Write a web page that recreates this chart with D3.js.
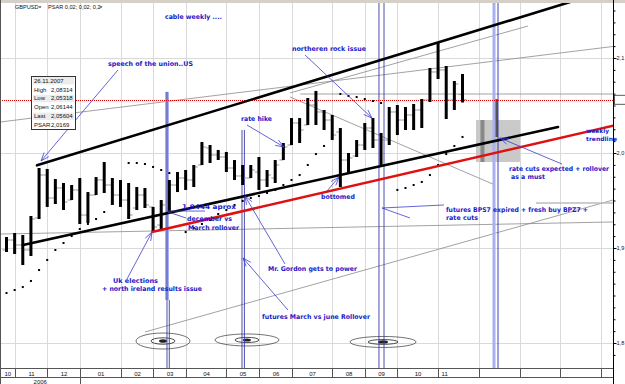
<!DOCTYPE html>
<html>
<head>
<meta charset="utf-8">
<script src="https://cdn.jsdelivr.net/npm/d3@7"></script>
<style>
  body { margin: 0; background: #fff; }
  svg { display: block; font-family: "DejaVu Sans", sans-serif; }
</style>
</head>
<body>
<svg id="chart" width="625" height="384"></svg>
<script>
// GBPUSD weekly, 30.10.2006 .. 26.11.2007
const WEEK = 7 * 864e5;
const firstWeek = new Date(2006, 9, 30);

const highs = [1.9116,1.9158,1.9137,1.9337,1.9842,1.9832,1.9726,1.9684,1.9663,1.9737,1.9589,1.9747,1.9905,1.9737,1.9716,1.9684,1.9642,1.9632,1.9432,1.9505,1.9716,1.9800,1.9821,1.9874,2.0116,2.0084,2.0032,2.0011,1.9926,1.9874,1.9874,1.9958,1.9821,1.9926,2.0105,2.0368,2.0368,2.0579,2.0653,2.0453,2.0400,2.0263,2.0000,2.0137,2.0316,2.0368,2.0211,2.0484,2.0505,2.0484,2.0516,2.0568,2.0895,2.1158,2.0916,2.0758,2.08314];
const lows  = [1.8958,1.8937,1.8821,1.8916,1.9305,1.9432,1.9463,1.9400,1.9505,1.9253,1.9263,1.9558,1.9579,1.9453,1.9432,1.9305,1.9400,1.9421,1.9168,1.9189,1.9368,1.9589,1.9611,1.9642,1.9874,1.9895,1.9926,1.9800,1.9716,1.9663,1.9737,1.9611,1.9642,1.9684,1.9926,2.0084,2.0105,2.0295,2.0295,2.0242,2.0137,1.9642,1.9789,1.9958,2.0032,2.0053,1.9874,2.0084,2.0189,2.0242,2.0242,2.0263,2.0537,2.0779,2.0358,2.0453,2.05318];
const opens = [1.8979,1.9084,1.9032,1.8979,1.9316,1.9768,1.9526,1.9632,1.9505,1.9611,1.9347,1.9558,1.9716,1.9663,1.9558,1.9505,1.9421,1.9558,1.9432,1.9242,1.9453,1.9663,1.9737,1.9716,1.9874,2.0053,1.9979,1.9958,1.9842,1.9758,1.9737,1.9800,1.9716,1.9737,1.9926,2.0084,2.0316,2.0295,2.0505,2.0432,2.0347,2.0221,1.9926,1.9968,2.0084,2.0263,2.0137,2.0137,2.0432,2.0347,2.0400,2.0453,2.0558,2.0853,2.0874,2.0558,2.06144];
const closes = [1.9084,1.9032,1.8979,1.9305,1.9768,1.9526,1.9632,1.9484,1.9611,1.9347,1.9558,1.9716,1.9663,1.9558,1.9505,1.9347,1.9558,1.9453,1.9221,1.9453,1.9663,1.9737,1.9716,1.9853,2.0063,1.9979,1.9958,1.9842,1.9758,1.9737,1.9821,1.9716,1.9768,1.9874,2.0063,2.0316,2.0242,2.0505,2.0432,2.0347,2.0189,1.9926,1.9947,2.0084,2.0263,2.0137,2.0137,2.0432,2.0347,2.0400,2.0453,2.0558,2.0853,2.0874,2.0558,2.0726,2.05604];
const psar = [1.8526,1.8558,1.8589,1.8653,1.8768,1.8874,1.8979,1.9053,1.9126,1.9200,1.9253,1.9305,1.9379,null,null,1.9895,1.9895,1.9884,1.9853,1.9821,1.9789,null,1.9168,1.9211,1.9253,1.9295,1.9358,1.9400,1.9453,1.9495,1.9526,1.9547,1.9579,1.9611,1.9663,1.9716,1.9768,1.9874,1.9989,2.0074,null,2.0621,2.0600,2.0589,2.0568,2.0547,2.0526,null,1.9611,1.9632,1.9663,1.9695,1.9768,1.9874,1.9989,2.0074,2.0169];

const monthTicks = ['2006-11-06','2006-12-04','2007-01-01','2007-02-05','2007-03-05','2007-04-02','2007-05-07','2007-06-04','2007-07-02','2007-08-06','2007-09-03','2007-10-01','2007-11-05','2007-12-10','2008-01-14','2008-02-18','2008-03-24'];
const monthLabels = ['10','11','12','01','02','03','04','05','06','07','08','09','10','11'];
const yearLabels = ['2006'];
const priceTicks = [1.8, 1.9, 2.0, 2.1];
const priceLabels = ['1,8', '1,9', '2,0', '2,1'];
const lastPrice = 2.05604;
const tooltipRows = [['26.11.2007', ''], ['High', '2,08314'], ['Low', '2,05318'], ['Open', '2,06144'], ['Last', '2,05604'], ['PSAR', '2,0169']];

// drawn objects, anchored in [week, price]
const channelLines = [
  [3.75, 1.987, 70, 2.161],
  [2.03, 1.9032, 67.73, 2.0274]
];
const redLine = [17.87, 1.9168, 75.96, 2.0316];
const thinLines = [
  [-0.8, 2.0326, 75.96, 2.1137],
  [-0.8, 1.9147, 74.48, 1.9274],
  [17.01, 1.8116, 74.48, 1.9505],
  [36.07, 2.0621, 74.48, 2.0621],
  [34.82, 2.0632, 64.05, 2.1337],
  [34.82, 2.0590, 60.0, 1.9663]
];
const shadedLine = [65.03, 1.9474, 74.48, 1.9474];
const eventWeeks = [19.71, 28.92, 45.74, 46.36, 59.87, 60.36];
const targets = [[19.22, 1.8021], [29.53, 1.8032], [46.24, 1.8011]];
const notes = [
  ['cable weekly ....', 19.46, 2.1432, 57],
  ['speech of the union..US', 12.46, 2.0937, 85],
  ['northeren rock issue', 35.06, 2.1095, 74],
  ['rate hike', 28.80, 2.0358, 31],
  ['1,9444 aprox', 21.55, 1.9432, 54],
  ['december vs', 22.17, 1.9310, 45],
  ['March rollover', 22.29, 1.9216, 51],
  ['bottomed', 38.62, 1.9537, 34],
  ['Uk elections', 13.08, 1.8658, 45],
  ['+ north ireland results issue', 11.73, 1.8574, 100],
  ['Mr. Gordon gets to power', 32.11, 1.8779, 89],
  ['futures March vs june Rollover', 31.38, 1.8274, 108],
  ['rate cuts expected + rollover', 61.71, 1.9837, 100],
  ['as a must', 61.96, 1.9753, 34],
  ['futures BPS7 expired + fresh buy BPZ7 +', 53.97, 1.9405, 142],
  ['rate cuts', 53.97, 1.9321, 32],
  ['weekly', 71.17, 2.0234, 23],
  ['trendline', 71.17, 2.0156, 31]
];
// [fromWeek, fromPrice, toWeek, toPrice, arrow]
const pointers = [
  [13.69, 2.0874, 4.24, 1.9916, true],
  [36.66, 2.1032, 44.88, 2.0368, true],
  [29.53, 2.0295, 34.08, 2.0063, true],
  [19.83, 1.9389, 24.38, 1.9389, false],
  [22.04, 1.9316, 19.83, 1.9379, false],
  [14.80, 1.8674, 17.87, 1.9168, true],
  [34.20, 1.8832, 29.29, 1.9547, true],
  [34.57, 1.8347, 29.04, 1.8895, true],
  [39.36, 1.9600, 40.83, 1.9747, true],
  [68.22, 1.9884, 60.60, 2.0158, true],
  [53.73, 1.9453, 46.11, 1.9421, false],
  [49.55, 1.9316, 46.11, 1.9421, false]
];
const zone = [57.66, 2.0347, 63.06, 1.9905];
const zoneBars = [[58.45, 2.0347, 1.9905], [60.1, 2.0568, 2.0168]];

// styles
const targetRings = [[[27, 8], [12, 3.2], [4, 1.8]], [[32, 6], [12, 2.6], [4, 1.5]], [[33, 5.5], [15, 2.4], [5, 1.6]]];
const noteFont = '"DejaVu Sans Condensed", "DejaVu Sans", sans-serif';
const uiFont = '"Liberation Sans", Arial, sans-serif';

const svg = d3.select('#chart');
const plotRight = 613, axisTop = 368, axisMid = 377;

const x = d3.scaleTime()
  .domain([firstWeek, new Date(+firstWeek + 56 * WEEK)])
  .range([6.5, 462.5]);
const xw = w => x(new Date(+firstWeek + w * WEEK));
const y = d3.scaleLinear().domain([1.8, 2.1]).range([343, 58]);

const bars = highs.map((h, i) => ({
  date: new Date(+firstWeek + i * WEEK),
  high: h, low: lows[i], open: opens[i], close: closes[i], sar: psar[i]
}));

svg.append('rect').attr('width', 625).attr('height', 384).attr('fill', '#fff');

svg.append('defs').append('clipPath').attr('id', 'plot')
  .append('rect').attr('x', 0).attr('y', 3).attr('width', plotRight).attr('height', axisTop - 3);

const g = svg.append('g').attr('clip-path', 'url(#plot)');

// grid
const tickDates = monthTicks.map(d => d3.timeParse('%Y-%m-%d')(d));
g.append('g').selectAll('line').data(tickDates).join('line')
  .attr('x1', d => Math.round(x(d)) + 0.5).attr('x2', d => Math.round(x(d)) + 0.5)
  .attr('y1', 0).attr('y2', axisTop)
  .attr('stroke', '#d9d9d9').attr('stroke-width', 1);
g.append('g').selectAll('line').data(priceTicks).join('line')
  .attr('x1', 0).attr('x2', plotRight)
  .attr('y1', d => Math.round(y(d)) + 0.5).attr('y2', d => Math.round(y(d)) + 0.5)
  .attr('stroke', '#d9d9d9');

// thin gray study lines
g.append('g').selectAll('line').data(thinLines).join('line')
  .attr('x1', d => xw(d[0])).attr('y1', d => y(d[1]))
  .attr('x2', d => xw(d[2])).attr('y2', d => y(d[3]))
  .attr('stroke', '#8a8a8a').attr('stroke-width', 0.8);
g.append('line')
  .attr('x1', xw(shadedLine[0])).attr('y1', y(shadedLine[1]))
  .attr('x2', xw(shadedLine[2])).attr('y2', y(shadedLine[3]))
  .attr('stroke', '#bdbdbd').attr('stroke-width', 1.6);

// target ellipses
const tg = g.append('g').selectAll('g').data(targets).join('g')
  .attr('transform', d => `translate(${xw(d[0])},${y(d[1])})`);
tg.each(function (d, i) {
  const r = targetRings[i];
  const s = d3.select(this);
  s.append('ellipse').attr('rx', r[0][0]).attr('ry', r[0][1]).attr('fill', 'none').attr('stroke', '#333').attr('stroke-width', 0.7);
  s.append('ellipse').attr('rx', r[1][0]).attr('ry', r[1][1]).attr('fill', 'none').attr('stroke', '#222').attr('stroke-width', 0.8);
  s.append('ellipse').attr('rx', r[2][0]).attr('ry', r[2][1]).attr('fill', '#222');
});

// gray zone
g.append('rect')
  .attr('x', xw(zone[0])).attr('y', y(zone[1]))
  .attr('width', xw(zone[2]) - xw(zone[0])).attr('height', y(zone[3]) - y(zone[1]))
  .attr('fill', '#c9c9c9');
g.append('g').selectAll('rect').data(zoneBars).join('rect')
  .attr('x', d => xw(d[0]) - 2).attr('width', 4)
  .attr('y', d => y(d[1])).attr('height', d => y(d[2]) - y(d[1]))
  .attr('fill', (d, i) => i ? '#555' : '#888');

// event verticals
const ev = g.append('g');
ev.append('rect').attr('x', xw(eventWeeks[0]) - 2).attr('width', 4)
  .attr('y', y(2.0643)).attr('height', 300 - y(2.0643)).attr('fill', '#aab2ee');
ev.append('line').attr('x1', xw(eventWeeks[0])).attr('x2', xw(eventWeeks[0]))
  .attr('y1', y(2.0643)).attr('y2', 384).attr('stroke', '#3a3aa8').attr('stroke-width', 0.9);
ev.append('line').attr('x1', xw(eventWeeks[0]) + 2.3).attr('x2', xw(eventWeeks[0]) + 2.3)
  .attr('y1', 300).attr('y2', 384).attr('stroke', '#3a3aa8').attr('stroke-width', 0.9);
[eventWeeks[1]].forEach(w => {
  [0, 2.4].forEach(o => ev.append('line').attr('x1', xw(w) + o).attr('x2', xw(w) + o)
    .attr('y1', y(2.0242)).attr('y2', 384).attr('stroke', '#3a3aa8').attr('stroke-width', 0.9));
});
[eventWeeks[2], eventWeeks[3]].forEach(w => ev.append('line')
  .attr('x1', xw(w)).attr('x2', xw(w)).attr('y1', 0).attr('y2', 384)
  .attr('stroke', '#3a3aa8').attr('stroke-width', 0.9));
ev.append('rect').attr('x', xw(eventWeeks[4]) - 1.5).attr('width', 3)
  .attr('y', 0).attr('height', 384).attr('fill', '#a8b0f0');
ev.append('line').attr('x1', xw(eventWeeks[5])).attr('x2', xw(eventWeeks[5]))
  .attr('y1', 0).attr('y2', 384).attr('stroke', '#2a2aa8').attr('stroke-width', 0.9);

// last price line
g.append('line').attr('x1', 0).attr('x2', plotRight)
  .attr('y1', Math.round(y(lastPrice)) + 0.5).attr('y2', Math.round(y(lastPrice)) + 0.5)
  .attr('stroke', '#d00').attr('stroke-dasharray', '1,1');

// bars
const bg = g.append('g');
bg.selectAll('line.oc').data(bars).join('line').attr('class', 'oc')
  .attr('x1', d => x(d.date) - 4).attr('x2', d => x(d.date))
  .attr('y1', d => y(d.open)).attr('y2', d => y(d.open))
  .attr('stroke', '#999');
bg.selectAll('line.cl').data(bars).join('line').attr('class', 'cl')
  .attr('x1', d => x(d.date)).attr('x2', d => x(d.date) + 4)
  .attr('y1', d => y(d.close)).attr('y2', d => y(d.close))
  .attr('stroke', '#999');
bg.selectAll('line.hl').data(bars).join('line').attr('class', 'hl')
  .attr('x1', d => x(d.date)).attr('x2', d => x(d.date))
  .attr('y1', d => y(d.high)).attr('y2', d => y(d.low))
  .attr('stroke', '#000').attr('stroke-width', 3);

// parabolic SAR
g.append('g').selectAll('rect').data(bars.filter(d => d.sar != null)).join('rect')
  .attr('x', d => x(d.date) - 1).attr('y', d => y(d.sar) - 1)
  .attr('width', 2).attr('height', 2).attr('fill', '#000');

// trend channel + weekly trendline
g.append('g').selectAll('line').data(channelLines).join('line')
  .attr('x1', d => xw(d[0])).attr('y1', d => y(d[1]))
  .attr('x2', d => xw(d[2])).attr('y2', d => y(d[3]))
  .attr('stroke', '#000').attr('stroke-width', 2.6).attr('stroke-linecap', 'round');
g.append('line')
  .attr('x1', xw(redLine[0])).attr('y1', y(redLine[1]))
  .attr('x2', xw(redLine[2])).attr('y2', y(redLine[3]))
  .attr('stroke', '#e01010').attr('stroke-width', 2.6);

// pointers
const pg = g.append('g').attr('stroke', '#3c3ccc').attr('stroke-width', 0.8);
pointers.forEach(p => {
  const x1 = xw(p[0]), y1 = y(p[1]), x2 = xw(p[2]), y2 = y(p[3]);
  pg.append('line').attr('x1', x1).attr('y1', y1).attr('x2', x2).attr('y2', y2);
  if (p[4]) {
    const a = Math.atan2(y1 - y2, x1 - x2);
    [-0.35, 0.35].forEach(da => pg.append('line')
      .attr('x1', x2).attr('y1', y2)
      .attr('x2', x2 + 9 * Math.cos(a + da)).attr('y2', y2 + 9 * Math.sin(a + da)));
  }
});

// notes (not clipped: "trendline" runs over the price axis)
svg.append('g').selectAll('text').data(notes).join('text')
  .attr('x', d => xw(d[1])).attr('y', d => y(d[2]) + 2.4)
  .attr('font-family', noteFont)
  .attr('font-size', d => (d[0] === 'weekly' || d[0] === 'trendline') ? 5.8 : 6.5)
  .attr('font-weight', 'bold').attr('fill', '#1a1ac8')
  .attr('textLength', d => d[3]).attr('lengthAdjust', 'spacingAndGlyphs')
  .text(d => d[0]);

// tooltip box
const tt = svg.append('g').attr('font-family', uiFont).attr('font-size', 6);
tt.append('rect').attr('x', 31.5).attr('y', 76.5).attr('width', 44).attr('height', 53)
  .attr('fill', '#fff').attr('stroke', '#333');
tooltipRows.forEach((r, i) => {
  if (i % 2 === 0) tt.append('rect').attr('x', 33).attr('y', 77 + i * 8.9)
    .attr('width', 41).attr('height', 7.4).attr('fill', '#ececec');
  tt.append('text').attr('x', 34).attr('y', 82.6 + i * 8.9).attr('fill', '#111').text(r[0]);
  tt.append('text').attr('x', 51).attr('y', 82.6 + i * 8.9).attr('fill', '#111').text(r[1]);
});

// top bar and header
svg.append('rect').attr('x', 0).attr('y', 0).attr('width', 625).attr('height', 3).attr('fill', '#d4d0c8');
const hd = svg.append('g').attr('font-size', 5.6).attr('fill', '#111').attr('font-family', uiFont);
hd.append('text').attr('x', 15).attr('y', 9).text('GBPUSD');
hd.append('path').attr('d', 'M38.5,6.5h3l-1.5,1.6z');
hd.append('text').attr('x', 48).attr('y', 9).text('PSAR 0,02; 0,02; 0,2');
hd.append('path').attr('d', 'M99.5,6.5h3l-1.5,1.6z');

// right price axis
const ax = svg.append('g').attr('transform', `translate(${plotRight + 0.5},0)`);
ax.call(d3.axisRight(y).tickValues(d3.range(1.7875, 2.16, 0.0125)).tickSize(2).tickFormat(''));
ax.call(g2 => g2.select('.domain').remove());
ax.append('line').attr('x1', 0).attr('x2', 0).attr('y1', 0).attr('y2', 384).attr('stroke', '#000');
ax.append('g').call(d3.axisRight(y).tickValues(priceTicks).tickSize(3)
  .tickFormat((d, i) => priceLabels[i]))
  .call(g2 => g2.select('.domain').remove())
  .call(g2 => g2.selectAll('text').attr('font-size', 5.6).attr('x', 3).attr('fill', '#111')
    .attr('font-family', uiFont));
ax.append('rect').attr('x', 1).attr('y', y(lastPrice) - 4.5).attr('width', 14).attr('height', 9)
  .attr('fill', '#fff').attr('stroke', '#333').attr('stroke-width', 0.8);
ax.append('text').attr('x', 1.8).attr('y', y(lastPrice) + 2).attr('font-size', 4.8)
  .attr('font-family', uiFont).text((Math.floor(lastPrice * 100) / 100).toFixed(2).replace('.', ','));

// time axis
const tx = svg.append('g').attr('stroke', '#555');
tx.append('line').attr('x1', 0).attr('x2', plotRight).attr('y1', axisTop + 0.5).attr('y2', axisTop + 0.5);
tx.append('line').attr('x1', 0).attr('x2', plotRight).attr('y1', axisMid + 0.5).attr('y2', axisMid + 0.5);
tx.append('line').attr('x1', 0.5).attr('x2', 0.5).attr('y1', 0).attr('y2', 384);
tx.selectAll('line.tk').data(tickDates).join('line').attr('class', 'tk')
  .attr('x1', d => Math.round(x(d)) + 0.5).attr('x2', d => Math.round(x(d)) + 0.5)
  .attr('y1', axisTop).attr('y2', axisMid);
tx.append('line').attr('x1', Math.round(x(tickDates[2])) + 0.5).attr('x2', Math.round(x(tickDates[2])) + 0.5)
  .attr('y1', axisMid).attr('y2', 384);
const edges = [0].concat(tickDates.map(d => Math.round(x(d)) + 0.5));
svg.append('g').selectAll('text').data(monthLabels).join('text')
  .attr('x', (d, i) => i === monthLabels.length - 1 ? edges[i] + 3 : (edges[i] + edges[i + 1]) / 2)
  .attr('text-anchor', (d, i) => i === monthLabels.length - 1 ? 'start' : 'middle')
  .attr('y', 375.5).attr('font-size', 6).attr('fill', '#111')
  .attr('font-family', uiFont)
  .text(d => d);
svg.append('text').attr('x', (edges[0] + edges[3]) / 2).attr('y', 383.5)
  .attr('text-anchor', 'middle').attr('font-size', 6).attr('fill', '#111')
  .attr('font-family', uiFont).text(yearLabels[0]);
</script>
</body>
</html>
